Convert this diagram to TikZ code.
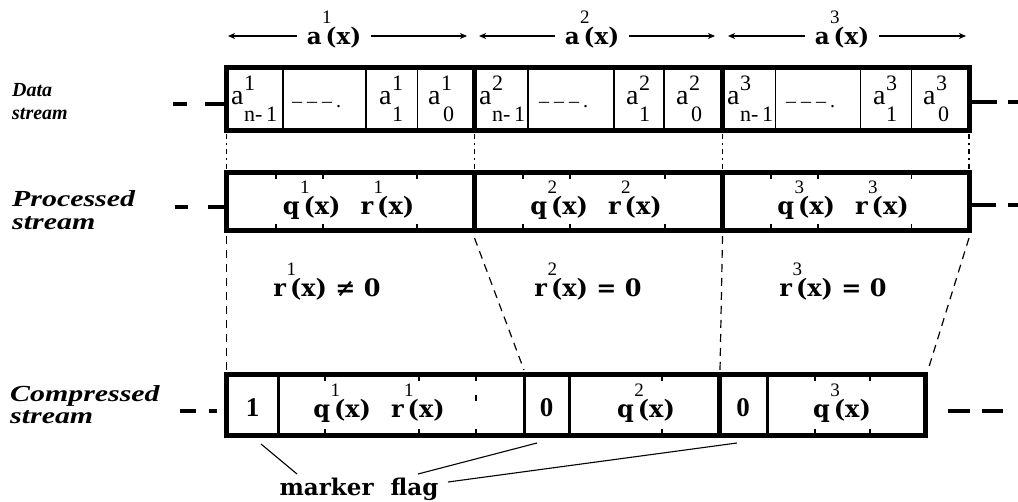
\documentclass[tikz,border=0pt]{standalone}
\usepackage{fontspec}
\setmainfont{Liberation Serif}
\newfontfamily\dvs{DejaVu Serif}
\newfontfamily\lbi[FakeStretch=1.3]{Liberation Serif Bold Italic}
\newfontfamily\lbis{Liberation Serif Bold Italic}
\usetikzlibrary{arrows.meta}
\newcommand\sx[1]{\makebox[4pt][l]{\kern0.5pt\raisebox{21pt}{\fontsize{19}{19}\selectfont\rmfamily\mdseries #1}}}
\newcommand\acell[2]{a\kern0.5pt\makebox[0pt][l]{\raisebox{14pt}{\fontsize{22}{22}\selectfont #1}}\raisebox{-17pt}{\fontsize{22}{22}\selectfont #2}}
\tikzset{
  outerbox/.style={line width=5pt},
  thincell/.style={line width=1.4pt},
  middiv/.style={line width=3pt},
  thickdiv/.style={line width=5pt},
  tickmark/.style={line width=1.4pt},
  dashdotlink/.style={line width=1.4pt, dash pattern=on 5pt off 4pt on 2pt off 4pt},
  dashlink/.style={line width=1.2pt, dash pattern=on 8pt off 6pt},
  leader/.style={line width=4.5pt},
  flagline/.style={line width=1.1pt},
  streamlab/.style={font=\lbi\fontsize{23}{25}\selectfont, anchor=base west, inner sep=0pt},
  smallstream/.style={font=\lbis\fontsize{20}{22}\selectfont, anchor=base west, inner sep=0pt},
  boldlab/.style={font=\dvs\bfseries\fontsize{24}{24}\selectfont, inner sep=0pt, anchor=base},
  toplab/.style={font=\dvs\bfseries\fontsize{23}{23}\selectfont, inner ysep=0pt, inner xsep=10pt, anchor=base},
  digitlab/.style={font=\bfseries\fontsize{27}{27}\selectfont, inner sep=0pt, anchor=base},
  celltext/.style={font=\fontsize{28}{28}\selectfont, inner sep=0pt, anchor=base},
  spanarrow/.style={line width=1.2pt, -{Stealth[length=7pt,width=6pt,inset=2pt]}},
}
\begin{document}
\begin{tikzpicture}[x=1pt,y=-1pt]
\useasboundingbox (0,0) rectangle (1018,502);

% ---------- stream labels ----------
\node[smallstream] (dl1) at (12,97) {Data};
\node[smallstream] (dl2) at (12,120) {stream};
\node[streamlab] (pl1) at (12,207) {Processed};
\node[streamlab] (pl2) at (12,230) {stream};
\node[streamlab] (cl1) at (10,402) {Compressed};
\node[streamlab] (cl2) at (10,424) {stream};

% ---------- top span arrows ----------
\coordinate (t1l) at (228,36); \coordinate (t1r) at (467,36);
\coordinate (t2l) at (479,36); \coordinate (t2r) at (715,36);
\coordinate (t3l) at (728,36); \coordinate (t3r) at (966,36);
\node[toplab] (la1) at (334,45) {a\sx{1}(x)};
\node[toplab] (la2) at (592,45) {a\sx{2}(x)};
\node[toplab] (la3) at (842,45) {a\sx{3}(x)};
\foreach \i in {1,2,3}{
  \draw[spanarrow] (la\i.west |- t\i l) -- (t\i l);
  \draw[spanarrow] (la\i.east |- t\i r) -- (t\i r);
}

% ---------- data stream ----------
\foreach \x in {283,366,417.7,528,614,664,775.7,860.7,911.7}
  \draw[thincell] (\x,68) -- (\x,130.5);
\foreach \x in {474.5,722.5}
  \draw[thickdiv] (\x,68) -- (\x,130.5);
\draw[outerbox] (226.5,68) rectangle (969,130.5);

\node[celltext, anchor=base west] (d11) at (231,105) {\acell{1}{n-\,1}};
\node[celltext, anchor=base west] (d21) at (479,105) {\acell{2}{n-\,1}};
\node[celltext, anchor=base west] (d31) at (727,105) {\acell{3}{n-\,1}};
\foreach \s/\x in {1/292,2/539,3/786}
  \node[celltext, font=\fontsize{20}{20}\selectfont, anchor=base west] (dd\s) at (\x,108) {–\hspace{5pt}–\hspace{5pt}–\hspace{4pt}.};
\node[celltext, anchor=base west] (d13) at (379,105) {\acell{1}{1}};
\node[celltext, anchor=base west] (d14) at (428,105) {\acell{1}{\kern2pt 0}};
\node[celltext, anchor=base west] (d23) at (626,105) {\acell{2}{1}};
\node[celltext, anchor=base west] (d24) at (676,105) {\acell{2}{\kern2pt 0}};
\node[celltext, anchor=base west] (d33) at (873,105) {\acell{3}{1}};
\node[celltext, anchor=base west] (d34) at (923,105) {\acell{3}{\kern2pt 0}};

% leaders data
\draw[leader] (173,104) -- (187,104);
\draw[leader] (205,104) -- (224,104);
\draw[leader] (972,102) -- (997,102);
\draw[leader] (1008,102) -- (1018,102);

% ---------- links data -> processed ----------
\foreach \x in {226.5,474.5,722.5,969}
  \draw[dashdotlink] (\x,134) -- (\x,170);

% ---------- processed stream ----------
\foreach \x in {276,323,417,523,570,665,771,818,911.6}{
  \draw[tickmark] (\x,172.5) -- (\x,179);
  \draw[tickmark] (\x,231) -- (\x,224.5);
}
\foreach \x in {474.5,722.5}
  \draw[thickdiv] (\x,172.5) -- (\x,231);
\draw[outerbox] (226.5,172.5) rectangle (969,231);
\node[boldlab] (p1) at (348.5,215) {q\sx{1}(x)\hspace{20pt}r\sx{1}(x)};
\node[boldlab] (p2) at (596,215) {q\sx{2}(x)\hspace{20pt}r\sx{2}(x)};
\node[boldlab] (p3) at (843,215) {q\sx{3}(x)\hspace{20pt}r\sx{3}(x)};

\draw[leader] (175,207) -- (188,207);
\draw[leader] (208,207) -- (224,207);
\draw[leader] (972,205) -- (996,205);
\draw[leader] (1008,205) -- (1018,205);

% ---------- conditions ----------
\node[boldlab] (r1) at (327,297) {r\sx{1}(x) ≠ 0};
\node[boldlab] (r2) at (588,297) {r\sx{2}(x) = 0};
\node[boldlab] (r3) at (833,297) {r\sx{3}(x) = 0};

% ---------- links processed -> compressed ----------
\draw[dashlink] (226.5,236) -- (226.5,371);
\draw[dashlink] (474.5,238) -- (524,370);
\draw[dashlink] (722.5,236) -- (720,371);
\draw[dashlink] (969,238) -- (928,370);

% ---------- compressed stream ----------
\foreach \x in {325,419,662,815,870}{
  \draw[tickmark] (\x,374.5) -- (\x,381);
  \draw[tickmark] (\x,435.5) -- (\x,429);
}
\draw[tickmark] (476,374.5) -- (476,381);
\draw[tickmark] (476,395) -- (476,401);
\draw[tickmark] (476,435.5) -- (476,429);
\foreach \x in {278,524,569,767}
  \draw[middiv] (\x,374.5) -- (\x,435.5);
\draw[thickdiv] (719.5,374.5) -- (719.5,435.5);
\draw[outerbox] (226.5,374.5) rectangle (925.5,435.5);

\node[digitlab] (c1) at (252.5,417) {1};
\node[boldlab] (cq1) at (379,418) {q\sx{1}(x)\hspace{20pt}r\sx{1}(x)};
\node[digitlab] (c0a) at (546.5,417) {0};
\node[boldlab] (cq2) at (646,418) {q\sx{2}(x)};
\node[digitlab] (c0b) at (743,417) {0};
\node[boldlab] (cq3) at (842,418) {q\sx{3}(x)};

\draw[leader] (180,411) -- (196,411);
\draw[leader] (209,411) -- (217,411);
\draw[leader] (948,411) -- (970,411);
\draw[leader] (982,411) -- (1003,411);

% ---------- marker flag ----------
\node[boldlab, font=\dvs\bfseries\fontsize{23}{23}\selectfont] (mf) at (359,496) {marker\hspace{17pt}flag};
\coordinate (f1) at (261,444);
\coordinate (f2) at (537,443);
\coordinate (f3) at (737,443);
\coordinate (m1) at (297,474);
\coordinate (m2) at (418,474);
\coordinate (m3) at (448,482);
\draw[flagline] (f1) -- (m1);
\draw[flagline] (m2) -- (f2);
\draw[flagline] (m3) -- (f3);
\end{tikzpicture}
\end{document}
